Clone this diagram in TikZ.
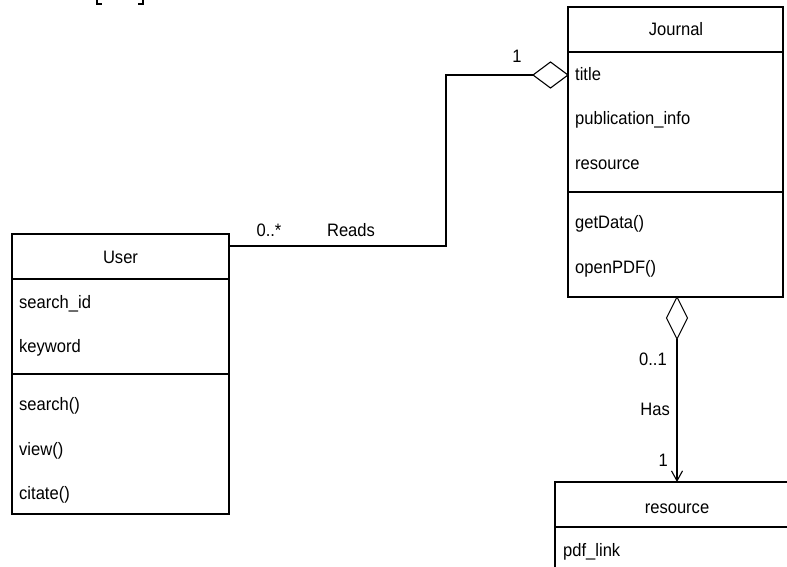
\documentclass[tikz,border=0pt]{standalone}
\usepackage{fontspec}
\setmainfont{Liberation Sans}[FakeStretch=0.92]
\usetikzlibrary{shapes.geometric,arrows.meta,calc}
\begin{document}
\begin{tikzpicture}[x=1pt,y=-1pt,
  box/.style={draw, line width=1.1pt, anchor=north west, inner sep=0pt, outer sep=0pt},
  sep/.style={line width=1.1pt},
  txt/.style={anchor=base west, inner sep=0pt, font=\fontsize{18}{21}\selectfont},
  ctxt/.style={anchor=base, inner sep=0pt, font=\fontsize{18}{21}\selectfont},
  rtxt/.style={anchor=base east, inner sep=0pt, font=\fontsize{18}{21}\selectfont},
  conn/.style={line width=1.1pt},
  agg/.style={diamond, draw, fill=white, line width=1.1pt, inner sep=0pt, outer sep=0pt},
]
\useasboundingbox (0,0) rectangle (787,567);
\fill[white] (0,0) rectangle (787,567);

% fragments of brackets at the top edge
\draw[line width=1.4pt] (97,-2) -- (97,4) -- (102,4);
\draw[line width=1.4pt] (143,-2) -- (143,4) -- (138,4);

% Journal class
\node[box, minimum width=215pt, minimum height=290pt] (journal) at (568,7) {};
\draw[sep] ($(journal.north west)+(0,45)$) -- ($(journal.north east)+(0,45)$);
\draw[sep] ($(journal.north west)+(0,185)$) -- ($(journal.north east)+(0,185)$);
\node[ctxt] (jname) at (676,36) {Journal};
\node[txt] (jtitle) at (575,81) {title};
\node[txt] (jpub) at (575,125) {publication\_info};
\node[txt] (jres) at (575,169) {resource};
\node[txt] (jget) at (575,228) {getData()};
\node[txt] (jopen) at (575,273) {openPDF()};

% User class
\node[box, minimum width=217pt, minimum height=280pt] (user) at (12,234) {};
\draw[sep] ($(user.north west)+(0,45)$) -- ($(user.north east)+(0,45)$);
\draw[sep] ($(user.north west)+(0,140)$) -- ($(user.north east)+(0,140)$);
\node[ctxt] (uname) at (120.5,263) {User};
\node[txt] (usid) at (19,308) {search\_id};
\node[txt] (ukey) at (19,352) {keyword};
\node[txt] (usearch) at (19,410) {search()};
\node[txt] (uview) at (19,455) {view()};
\node[txt] (ucit) at (19,499) {citate()};

% resource class
\node[box, minimum width=244pt, minimum height=130pt] (res) at (555,482) {};
\draw[sep] ($(res.north west)+(0,45)$) -- ($(res.north east)+(0,45)$);
\node[ctxt] (rname) at (677,513) {resource};
\node[txt] (rlink) at (563,556) {pdf\_link};

% Reads association (aggregation at Journal)
\node[agg, minimum width=35pt, minimum height=26pt, anchor=east] (dia1) at (568,75) {};
\draw[conn] (user.north east) ++(0,12) -- ++(217,0) |- (dia1.west);
\node[ctxt] (m1) at (517,63) {1};
\node[ctxt] (m0s) at (269,236) {0..*};
\node[ctxt] (reads) at (351,236) {Reads};

% Has association (aggregation at Journal, arrow to resource)
\node[agg, minimum width=21pt, minimum height=42pt, anchor=north] (dia2) at (677,297) {};
\draw[conn, -{Straight Barb[length=10pt,width=11pt,line width=1.1pt]}] (dia2.south) -- (res.north -| dia2.south);
\node[rtxt] (m01) at (667,365) {0..1};
\node[rtxt] (has) at (670,415) {Has};
\node[rtxt] (m1b) at (668,466) {1};
\end{tikzpicture}
\end{document}
